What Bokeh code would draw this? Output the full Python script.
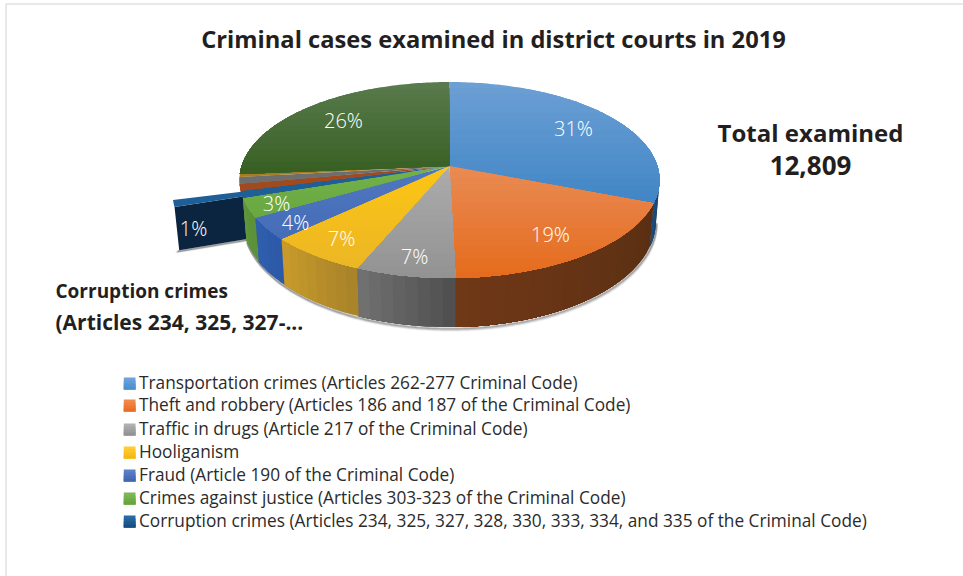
import math
from bokeh.plotting import figure
from bokeh.models import Range1d
from bokeh.core.properties import value
from bokeh.embed import file_html
from bokeh.resources import INLINE

# ---------- data ----------
title = "Criminal cases examined in district courts in 2019"
slice_names = ["Transportation crimes", "Theft and robbery", "Traffic in drugs", "Hooliganism", "Fraud",
               "Crimes against justice", "Corruption crimes", "Other a", "Other b", "Other c", "Other d"]
slice_values = [31.0, 18.6, 6.7, 6.7, 3.7, 3.2, 1.1, 1.1, 1.1, 0.5, 26.3]
slice_labels = ["31%", "19%", "7%", "7%", "4%", "3%", "1%", None, None, None, "26%"]
top_light = ["#6c9fd4", "#e98a52", "#ababab", "#fcc514", "#4f76bf", "#72b04a", "#1f5f98", "#a04a1e", "#6e6e6e", "#a87c22", "#587a4c"]
top_dark = ["#4186c6", "#e56c1e", "#939393", "#ecb724", "#466eb8", "#6aa842", "#1f5f98", "#a04a1e", "#6e6e6e", "#a87c22", "#396023"]
wall_a = ["#173f6a", "#5a2f13", "#505050", "#a98428", "#2c5aa8", "#5c9039", None, None, None, None, None]
wall_b = ["#1d4d7c", "#6f3817", "#707070", "#c89a2c", "#2f5eae", "#5f953c", None, None, None, None, None]
legend_texts = ["Transportation crimes (Articles 262-277 Criminal Code)",
                "Theft and robbery (Articles 186 and 187 of the Criminal Code)",
                "Traffic in drugs (Article 217 of the Criminal Code)",
                "Hooliganism",
                "Fraud (Article 190 of the Criminal Code)",
                "Crimes against justice (Articles 303-323 of the Criminal Code)",
                "Corruption crimes (Articles 234, 325, 327, 328, 330, 333, 334, and 335 of the Criminal Code)"]
legend_light = ["#6ba3dc", "#f08a4c", "#b0b0b0", "#ffcc33", "#5a80c6", "#7db856", "#2a6aa4"]
legend_dark = ["#4f90cf", "#ea6f24", "#939393", "#f6b913", "#4268b4", "#67a53f", "#164f84"]
total_lines = ["Total examined", "12,809"]
callout_lines = ["Corruption crimes", "(Articles 234, 325, 327-..."]
exploded = 6

# ---------- layout ----------
W, H = 963, 576
CX, AY = 449.0, 165.5
A, B, K = 207.9, 96.0, 0.1429
DEPTH, DGRAD, SX = 49.0, 0.08, 0.983
EXPLODE = 0.31
label_x = [573, 550, 414, 341, 295, 276, 193, 343]
label_y = [128, 234, 256, 238, 222, 203, 228, 120]
legend_y = [383, 405, 429, 452, 475, 498, 521]


def proj(u, v):
    d = 1 - K * v
    return CX + A * u / d, AY + B * v / d


def circ(t):
    r = math.radians(t)
    return math.sin(r), -math.cos(r)


def down(pt):
    x, y = pt
    return CX + SX * (x - CX), y + DEPTH + DGRAD * (y - 277)


def mix(c1, c2, f):
    a = [int(c1[i:i + 2], 16) for i in (1, 3, 5)]
    b = [int(c2[i:i + 2], 16) for i in (1, 3, 5)]
    return "#%02x%02x%02x" % tuple(round(a[i] + (b[i] - a[i]) * f) for i in range(3))


def clip(poly, y0):
    """Keep the part of a polygon at or below the screen row y0."""
    out = []
    n = len(poly)
    for i in range(n):
        p0, p1 = poly[i], poly[(i + 1) % n]
        in0, in1 = p0[1] >= y0, p1[1] >= y0
        if in0:
            out.append(p0)
        if in0 != in1:
            f = (y0 - p0[1]) / (p1[1] - p0[1])
            out.append((p0[0] + f * (p1[0] - p0[0]), y0))
    return out


def arc(t0, t1, off=(0.0, 0.0)):
    n = max(2, int(abs(t1 - t0)) + 1)
    pts = []
    for i in range(n + 1):
        u, v = circ(t0 + (t1 - t0) * i / n)
        pts.append(proj(u + off[0], v + off[1]))
    return pts


total = sum(slice_values)
edges = [0.0]
for val in slice_values:
    edges.append(edges[-1] + val / total * 360)

p = figure(width=W, height=H, output_backend="svg", toolbar_location=None,
           x_range=Range1d(0, W), y_range=Range1d(H, 0), min_border=0,
           outline_line_color=None, background_fill_color="white", border_fill_color="white")
p.xaxis.visible = False
p.yaxis.visible = False
p.xgrid.visible = False
p.ygrid.visible = False

# page frame
p.line([W, 5.5, 5.5], [3.5, 3.5, H], line_color="#e2e2e2", line_width=1.5)


def draw(polys, colors):
    p.patches([[q[0] for q in g] for g in polys], [[q[1] for q in g] for g in polys],
              fill_color=colors, line_color=None)


# exploded slice
mid = (edges[exploded] + edges[exploded + 1]) / 2
mu, mv = circ(mid)
off = (mu * EXPLODE, mv * EXPLODE)
tip = proj(*off)
ex_arc = arc(edges[exploded], edges[exploded + 1], off)
outer_low = ex_arc[0]
face = [outer_low, tip, down(tip), down(outer_low)]

# shadows
wall_start = math.degrees(math.acos(-K))
main_bottom = [down(q) for q in arc(wall_start, edges[exploded])]
for d, a in [(3.5, 0.10), (2.5, 0.2), (1.5, 0.35)]:
    p.line([q[0] + d * 0.3 for q in main_bottom], [q[1] + d for q in main_bottom],
           line_color="#404040", line_alpha=a, line_width=2)
    p.line([down(outer_low)[0] - d, down(tip)[0]], [down(outer_low)[1] + d * 0.6, down(tip)[1] + d * 0.6],
           line_color="#404040", line_alpha=a, line_width=2)

draw([face], ["#0b2540"])
draw([[outer_low] + ex_arc[1:] + [tip]], [top_light[exploded]])

# outer walls: each step runs to the slice's end, the next one paints over it
wall_polys, wall_cols = [], []
for i in range(exploded):
    t0, t1 = max(edges[i], wall_start), edges[i + 1]
    steps = max(1, int((t1 - t0) / 3))
    for s in range(steps):
        a0 = t0 + (t1 - t0) * s / steps
        top = arc(a0, t1)
        wall_polys.append(top + [down(q) for q in reversed(top)])
        wall_cols.append(mix(wall_a[i], wall_b[i], s / max(1, steps - 1)))
draw(wall_polys, wall_cols)

# top faces, with stepped shading painted from the top row downward
top_polys, top_cols = [], []
for i in range(len(slice_values)):
    apex = proj(0, 0)
    poly = [apex] + arc(edges[i], edges[i + 1])
    ymin = min(q[1] for q in poly)
    ymax = max(q[1] for q in poly)
    bands = max(1, int((ymax - ymin) / 6))
    for b in range(bands):
        g = clip(poly, ymin + (ymax - ymin) * b / bands)
        if len(g) > 2:
            top_polys.append(g)
            top_cols.append(mix(top_light[i], top_dark[i], b / max(1, bands - 1)))
draw(top_polys, top_cols)

# percentage labels
shown = [t for t in slice_labels if t]
p.text(label_x, label_y, text=shown, text_color="white", text_font=value("Open Sans Light, Open Sans"),
       text_font_size="20px", text_align="center", text_baseline="middle")

# legend
for i, txt in enumerate(legend_texts):
    y = legend_y[i]
    for b in range(4):
        p.quad(left=123.3, right=135, top=y - 6 + 3 * b, bottom=y + 6,
               fill_color=mix(legend_light[i], legend_dark[i], b / 3), line_color=None)
p.text([138.5] * len(legend_texts), [y - 1 for y in legend_y], text=legend_texts, text_color="#2b2b2b",
       text_font=value("Open Sans"), text_font_size="17.25px", text_align="left", text_baseline="middle")

# titles
p.text([493], [38], text=[title], text_color="#231f20", text_font=value("Open Sans"),
       text_font_size="23.7px", text_font_style="bold", text_align="center", text_baseline="middle")
p.text([810], [132], text=total_lines[:1], text_color="#231f20", text_font=value("Open Sans"),
       text_font_size="24px", text_font_style="bold", text_align="center", text_baseline="middle")
p.text([810], [165], text=total_lines[1:], text_color="#231f20", text_font=value("Open Sans"),
       text_font_size="26px", text_font_style="bold", text_align="center", text_baseline="middle")
p.text([55], [290], text=callout_lines[:1], text_color="#231f20", text_font=value("Open Sans"),
       text_font_size="19px", text_font_style="bold", text_align="left", text_baseline="middle")
p.text([55], [321], text=callout_lines[1:], text_color="#231f20", text_font=value("Open Sans"),
       text_font_size="21px", text_font_style="bold", text_align="left", text_baseline="middle")

open("out.html", "w").write(file_html(p, INLINE))
